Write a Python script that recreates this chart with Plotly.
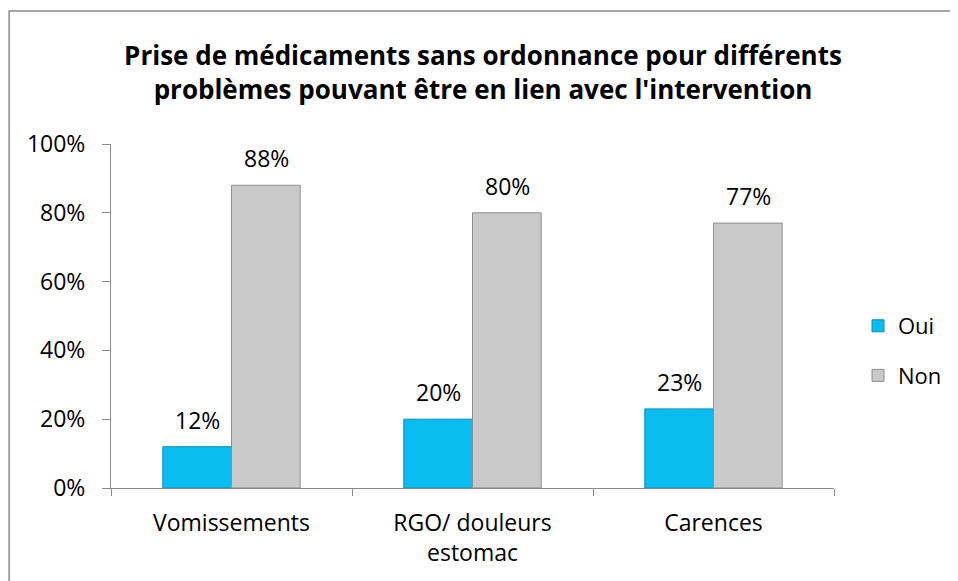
import plotly.graph_objects as go

categories = ["Vomissements", "RGO/ douleurs<br>estomac", "Carences"]
oui_values = [0.12, 0.20, 0.23]
non_values = [0.88, 0.80, 0.77]
series_names = ["Oui", "Non"]
y_ticks = [0, 0.2, 0.4, 0.6, 0.8, 1.0]
y_tick_labels = ["0%", "20%", "40%", "60%", "80%", "100%"]
title_text = ("Prise de médicaments sans ordonnance pour différents<br>"
              "problèmes pouvant être en lien avec l'intervention")

FONT = "Open Sans"
# page body has an 8px margin: figure is drawn 8px right/down
OFF = 8
W, H = 958 - OFF, 581 - OFF
L, R, T, B = 111 - OFF, 958 - 835, 144 - OFF, 581 - 488
pw, ph = W - L - R, H - T - B

def px_x(p):  # reference pixel -> paper
    return (p - OFF - L) / pw

def px_y(p):
    return (H - B - (p - OFF)) / ph

fig = go.Figure()
fig.add_trace(go.Bar(
    name=series_names[0], x=categories, y=oui_values, legendgroup="a",
    marker=dict(color="#0ABDF0", line=dict(color="#0A8FB8", width=1)),
))
fig.add_trace(go.Bar(
    name=series_names[1], x=categories, y=non_values, legendgroup="b",
    marker=dict(color="#C9C9C9", line=dict(color="#8E8E8E", width=1)),
))

annotations = []
for vals, shift in ((oui_values, -34.5), (non_values, 34.5)):
    for c, v in zip(categories, vals):
        annotations.append(dict(
            x=c, y=v, xref="x", yref="y", text=f"{v:.0%}", showarrow=False,
            xshift=shift, yshift=27, yanchor="middle", xanchor="center",
            font=dict(family=FONT, size=23, color="#000000")))

fig.update_layout(
    width=W, height=H,
    margin=dict(l=L, r=R, t=T, b=B, pad=0),
    paper_bgcolor="white", plot_bgcolor="white",
    barmode="group", bargap=0.43, bargroupgap=0,
    font=dict(family=FONT, size=23, color="#000000"),
    title=dict(text=title_text, x=0.5, xanchor="center", y=1 - (65 - OFF) / H, yanchor="middle",
               font=dict(family=FONT, size=26, color="#000000", weight="bold")),
    showlegend=True,
    legend=dict(x=px_x(858), y=px_y(351), xanchor="left", yanchor="middle",
                font=dict(family=FONT, size=22, color="#000000"),
                bgcolor="rgba(0,0,0,0)", itemwidth=30,
                traceorder="grouped", tracegroupgap=18),
    annotations=annotations,
    xaxis=dict(showgrid=False, showline=True, linecolor="#8C8C8C", linewidth=1,
               ticks="outside", tickson="boundaries", ticklen=7, tickcolor="#8C8C8C",
               ticklabelstandoff=14,
               tickfont=dict(family=FONT, size=23, color="#000000")),
    yaxis=dict(range=[0, 1], showgrid=False, showline=True, linecolor="#8C8C8C", linewidth=1,
               ticks="outside", ticklen=8, tickcolor="#8C8C8C", ticklabelstandoff=12,
               tickvals=y_ticks, ticktext=y_tick_labels, zeroline=False,
               tickfont=dict(family=FONT, size=23, color="#000000")),
    shapes=[dict(type="rect", xref="paper", yref="paper",
                 x0=px_x(9), x1=px_x(965), y0=px_y(590), y1=px_y(11),
                 line=dict(color="#8C8C8C", width=1.5), fillcolor="rgba(0,0,0,0)",
                 layer="below")],
)

fig.write_html("out.html")
